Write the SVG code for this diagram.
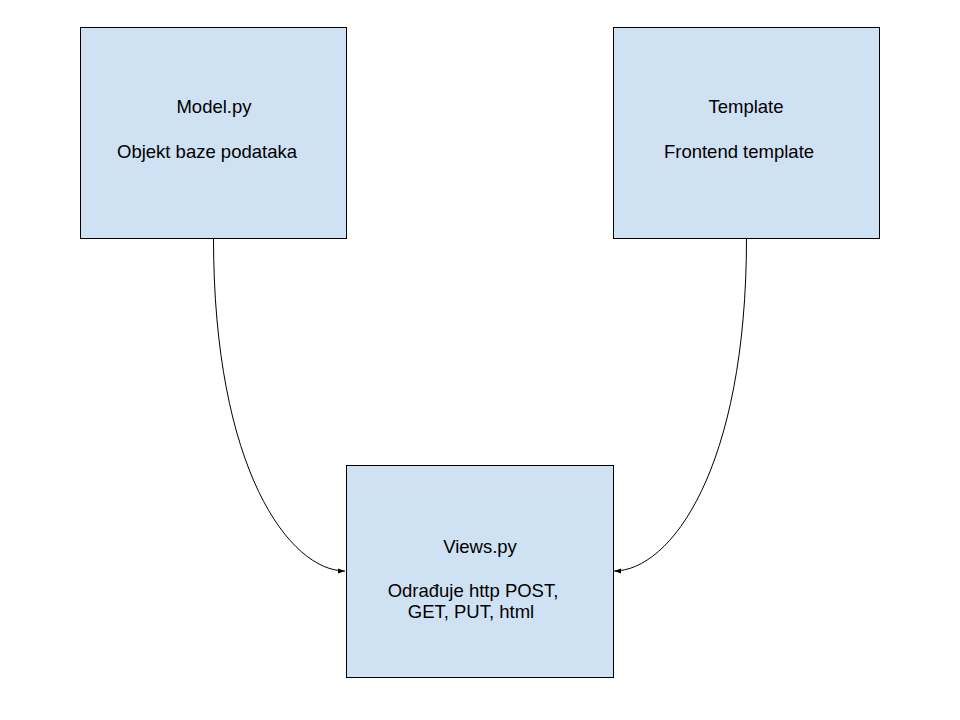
<svg xmlns="http://www.w3.org/2000/svg" width="960" height="720" viewBox="0 0 960 720">
<defs>
<style>
.box{fill:#cfe2f3;stroke:#000;stroke-width:1}
.t{font-family:"Liberation Sans",Arial,sans-serif;font-size:18.5px;fill:#000;text-anchor:middle}
.c{fill:none;stroke:#000;stroke-width:1}
</style>
<marker id="arr" markerWidth="8" markerHeight="8" refX="7" refY="4" orient="auto" markerUnits="userSpaceOnUse">
<path d="M0,1.5 L7,4 L0,6.5 Z" fill="#000"/>
</marker>
</defs>
<rect width="960" height="720" fill="#fff"/>
<g id="connectors">
<path class="c" d="M213.5,238 C213.5,470 290,571 345,571" marker-end="url(#arr)"/>
<path class="c" d="M746.5,238 C746.5,470 670,571 614,571" marker-end="url(#arr)"/>
</g>
<g id="model">
<rect class="box" x="80.5" y="27.5" width="266" height="211"/>
<text class="t" x="214" y="113">Model.py</text>
<text class="t" x="207" y="158">Objekt baze podataka</text>
</g>
<g id="template">
<rect class="box" x="613.5" y="27.5" width="266" height="211"/>
<text class="t" x="746" y="113">Template</text>
<text class="t" x="739" y="158">Frontend template</text>
</g>
<g id="views">
<rect class="box" x="346.5" y="465.5" width="267" height="212"/>
<text class="t" x="480" y="553">Views.py</text>
<text class="t" x="473" y="597">Odrađuje http POST,</text>
<text class="t" x="471" y="618">GET, PUT, html</text>
</g>
</svg>
